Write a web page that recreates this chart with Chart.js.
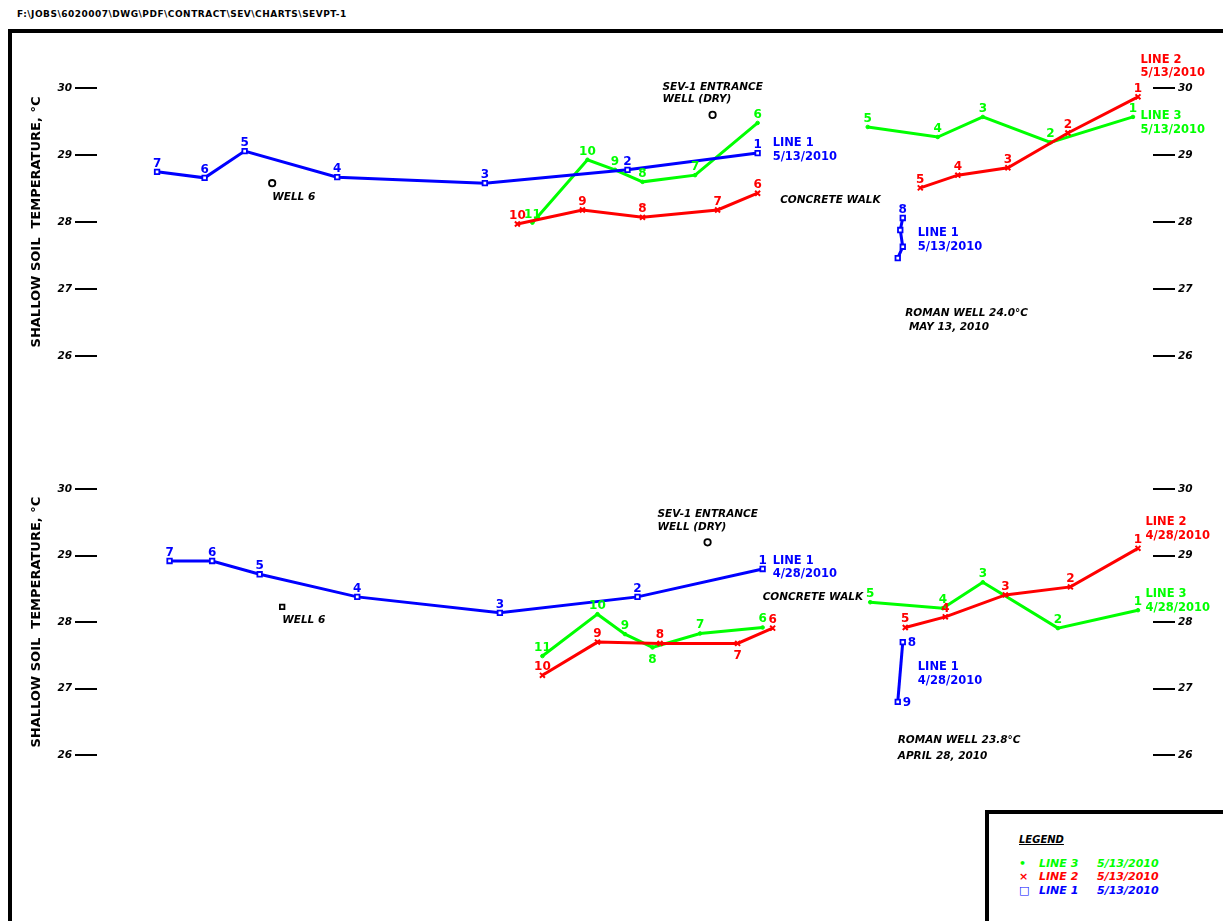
<!DOCTYPE html>
<html>
<head>
<meta charset="utf-8">
<title>SEVPT-1 shallow soil temperature</title>
<script src="https://cdn.jsdelivr.net/npm/chart.js@4/dist/chart.umd.min.js"></script>
<style>
  html, body { margin: 0; padding: 0; background: #fff; }
  #page { position: relative; width: 1223px; height: 921px; overflow: hidden; background: #fff; }
  #path { position: absolute; left: 17px; top: 9px; font: bold 9px "DejaVu Sans", sans-serif; letter-spacing: 0.5px; color: #000; white-space: nowrap; }
  #frame { position: absolute; left: 8px; top: 29px; width: 1400px; height: 1000px; border-left: 4px solid #000; border-top: 4px solid #000; }
  canvas { position: absolute; left: 0; }
  #legend { position: absolute; left: 985px; top: 810px; width: 400px; height: 200px; border-left: 4px solid #000; border-top: 4px solid #000; background: #fff; }
  #legend .ttl { position: absolute; left: 30px; top: 20px; font: italic bold 10px "DejaVu Sans", sans-serif; text-decoration: underline; }
  #legend .row { position: absolute; left: 30px; font: italic bold 11px "DejaVu Sans", sans-serif; white-space: nowrap; }
  #legend .mk { display: inline-block; width: 20px; }
  #legend .nm { display: inline-block; width: 58px; }
</style>
</head>
<body>
<div id="page">
  <div id="path">F:\JOBS\6020007\DWG\PDF\CONTRACT\SEV\CHARTS\SEVPT-1</div>
  <div id="frame"></div>
  <canvas id="may" width="1223" height="440" style="top:0"></canvas>
  <canvas id="apr" width="1223" height="481" style="top:440px"></canvas>
  <div id="legend">
    <div class="ttl">LEGEND</div>
    <div class="row" style="top:43px;color:#00ff00"><span class="mk">&#8226;</span><span class="nm">LINE 3</span>5/13/2010</div>
    <div class="row" style="top:56px;color:#ff0000"><span class="mk">&#215;</span><span class="nm">LINE 2</span>5/13/2010</div>
    <div class="row" style="top:70px;color:#0000ff"><span class="mk">&#9633;</span><span class="nm">LINE 1</span>5/13/2010</div>
  </div>
</div>
<script>
// Temperature axis
const Y_TICKS = [26, 27, 28, 29, 30];
const Y_MIN = 25.4;
const Y_MAX = 30.6;
const X_MAX = 422;   // station along the survey (ft)

// ---- May 13, 2010 survey ----
const mayL1Sta = [24, 43, 59, 96, 155, 212, 264];
const mayL1Temp = [28.75, 28.66, 29.06, 28.67, 28.58, 28.78, 29.03];
const mayL1Num = ['7', '6', '5', '4', '3', '2', '1'];
const mayL1RomanSta = [322, 321, 322, 320];
const mayL1RomanTemp = [28.06, 27.88, 27.63, 27.46];
const mayL1RomanNum = ['8', '', '', ''];

const mayL2Sta = [168, 194, 218, 248, 264];
const mayL2Temp = [27.97, 28.18, 28.07, 28.18, 28.43];
const mayL2Num = ['10', '9', '8', '7', '6'];
const mayL2RomanSta = [329, 344, 364, 388, 416];
const mayL2RomanTemp = [28.51, 28.70, 28.81, 29.33, 29.87];
const mayL2RomanNum = ['5', '4', '3', '2', '1'];

const mayL3Sta = [174, 196, 207, 218, 239, 264];
const mayL3Temp = [27.99, 28.93, 28.78, 28.60, 28.70, 29.48];
const mayL3Num = ['11', '10', '9', '8', '7', '6'];
const mayL3RomanSta = [308, 336, 354, 381, 414];
const mayL3RomanTemp = [29.42, 29.27, 29.57, 29.19, 29.57];
const mayL3RomanNum = ['5', '4', '3', '2', '1'];

const mayWellSta = [246, 70];
const mayWellTemp = [29.60, 28.58];

// ---- April 28, 2010 survey ----
const aprL1Sta = [29, 46, 65, 104, 161, 216, 266];
const aprL1Temp = [28.92, 28.92, 28.72, 28.38, 28.14, 28.38, 28.80];
const aprL1Num = ['7', '6', '5', '4', '3', '2', '1'];
const aprL1RomanSta = [322, 320];
const aprL1RomanTemp = [27.70, 26.80];
const aprL1RomanNum = ['8', '9'];

const aprL2Sta = [178, 200, 225, 256, 270];
const aprL2Temp = [27.20, 27.70, 27.68, 27.68, 27.91];
const aprL2Num = ['10', '9', '8', '7', '6'];
const aprL2RomanSta = [323, 339, 363, 389, 416];
const aprL2RomanTemp = [27.92, 28.08, 28.41, 28.53, 29.11];
const aprL2RomanNum = ['5', '4', '3', '2', '1'];

const aprL3Sta = [178, 200, 211, 222, 241, 266];
const aprL3Temp = [27.49, 28.12, 27.82, 27.62, 27.83, 27.92];
const aprL3Num = ['11', '10', '9', '8', '7', '6'];
const aprL3RomanSta = [309, 338, 354, 384, 416];
const aprL3RomanTemp = [28.30, 28.21, 28.60, 27.91, 28.18];
const aprL3RomanNum = ['5', '4', '3', '2', '1'];

const aprWellSta = [244, 74];
const aprWellTemp = [29.20, 28.23];

// Text notes (station, temperature of each text line)
const BLUE = '#0000ff', RED = '#ff0000', GREEN = '#00ff00', BLACK = '#000000';
const mayNotes = [
  { lines: ['SEV-1 ENTRANCE', 'WELL (DRY)'], sta: 226, temp: [30.01, 29.83], color: BLACK },
  { lines: ['WELL 6'], sta: 70, temp: [28.37], color: BLACK },
  { lines: ['CONCRETE WALK'], sta: 273, temp: [28.33], color: BLACK },
  { lines: ['ROMAN WELL 24.0\u00B0C', ' MAY 13, 2010'], sta: 323, temp: [26.64, 26.43], color: BLACK },
  { lines: ['LINE 1', '5/13/2010'], sta: 270, temp: [29.18, 28.97], color: BLUE },
  { lines: ['LINE 2', '5/13/2010'], sta: 417, temp: [30.42, 30.22], color: RED },
  { lines: ['LINE 3', '5/13/2010'], sta: 417, temp: [29.58, 29.37], color: GREEN },
  { lines: ['LINE 1', '5/13/2010'], sta: 328, temp: [27.84, 27.62], color: BLUE }
];
const aprNotes = [
  { lines: ['SEV-1 ENTRANCE', 'WELL (DRY)'], sta: 224, temp: [29.62, 29.43], color: BLACK },
  { lines: ['WELL 6'], sta: 74, temp: [28.03], color: BLACK },
  { lines: ['CONCRETE WALK'], sta: 266, temp: [28.38], color: BLACK },
  { lines: ['ROMAN WELL 23.8\u00B0C', 'APRIL 28, 2010'], sta: 320, temp: [26.23, 25.98], color: BLACK },
  { lines: ['LINE 1', '4/28/2010'], sta: 270, temp: [28.92, 28.72], color: BLUE },
  { lines: ['LINE 2', '4/28/2010'], sta: 419, temp: [29.50, 29.29], color: RED },
  { lines: ['LINE 3', '4/28/2010'], sta: 419, temp: [28.42, 28.22], color: GREEN },
  { lines: ['LINE 1', '4/28/2010'], sta: 328, temp: [27.32, 27.12], color: BLUE }
];

function pts(sta, temp) { return sta.map((s, i) => ({ x: s, y: temp[i] })); }

function line1(sta, temp, nums, side) {
  return { data: pts(sta, temp), nums, numSide: side || 'top', borderColor: BLUE, backgroundColor: BLUE,
    borderWidth: 3, pointStyle: 'rect', pointRadius: 3.2, pointBackgroundColor: '#fff',
    pointBorderColor: BLUE, pointBorderWidth: 1.8 };
}
function line2(sta, temp, nums, below) {
  return { data: pts(sta, temp), nums, below: below || [], borderColor: RED, backgroundColor: RED,
    borderWidth: 3, pointStyle: 'crossRot', pointRadius: 3.5, pointBorderWidth: 2 };
}
function line3(sta, temp, nums, below) {
  return { data: pts(sta, temp), nums, below: below || [], borderColor: GREEN, backgroundColor: GREEN,
    borderWidth: 3, pointStyle: 'circle', pointRadius: 1.8, pointBorderWidth: 1 };
}
function wells(sta, temp, styles) {
  return { data: pts(sta, temp), showLine: false, pointStyle: styles, pointRadius: 3.2,
    pointBorderColor: BLACK, pointBackgroundColor: '#fff', pointBorderWidth: 1.8, borderColor: BLACK };
}

const labelPlugin = {
  id: 'sevLabels',
  afterDatasetsDraw(chart, args, opts) {
    const ctx = chart.ctx;
    const xs = chart.scales.x, ys = chart.scales.y;
    ctx.save();
    chart.data.datasets.forEach((ds, i) => {
      if (!ds.nums) return;
      const meta = chart.getDatasetMeta(i);
      ctx.fillStyle = ds.borderColor;
      ctx.font = 'bold 12px "DejaVu Sans", sans-serif';
      ctx.textBaseline = 'alphabetic';
      meta.data.forEach((el, j) => {
        const t = ds.nums[j];
        if (!t) return;
        if (ds.numSide === 'side') {
          ctx.textAlign = 'left';
          ctx.fillText(t, el.x + 5, el.y + 4);
        } else {
          ctx.textAlign = 'center';
          const below = ds.below && ds.below.includes(j);
          ctx.fillText(t, el.x, below ? el.y + 16 : el.y - 5);
        }
      });
    });
    opts.notes.forEach(n => {
      ctx.fillStyle = n.color;
      ctx.font = n.color === BLACK ? 'italic bold 10.5px "DejaVu Sans", sans-serif' : 'bold 11.5px "DejaVu Sans", sans-serif';
      ctx.textAlign = 'left';
      ctx.textBaseline = 'middle';
      n.lines.forEach((ln, k) => ctx.fillText(ln, xs.getPixelForValue(n.sta), ys.getPixelForValue(n.temp[k])));
    });
    ctx.restore();
  }
};

function tempAxis(position, withTitle) {
  return {
    type: 'linear', position, min: Y_MIN, max: Y_MAX,
    afterBuildTicks: s => { s.ticks = Y_TICKS.map(v => ({ value: v })); },
    afterFit: s => { s.width = position === 'left' ? 72 : 60; },
    border: { display: false },
    grid: { drawOnChartArea: false, drawTicks: true, tickLength: 22, color: BLACK, lineWidth: 2 },
    ticks: { color: BLACK, padding: 3, font: { family: 'DejaVu Sans', size: 10.5, weight: 'bold', style: 'italic' } },
    title: { display: withTitle, text: 'SHALLOW SOIL  TEMPERATURE, \u00B0C', color: BLACK,
      font: { family: 'DejaVu Sans', size: 13, weight: 'bold' } }
  };
}

function makeChart(id, datasets, notes, pad) {
  new Chart(document.getElementById(id), {
    type: 'line',
    data: { datasets },
    options: {
      responsive: false, animation: false, devicePixelRatio: 1,
      layout: { padding: pad },
      plugins: { legend: { display: false }, tooltip: { enabled: false }, sevLabels: { notes } },
      elements: { line: { tension: 0, fill: false } },
      scales: {
        x: { type: 'linear', min: 0, max: X_MAX, display: false },
        y: tempAxis('left', true),
        y2: tempAxis('right', false)
      }
    },
    plugins: [labelPlugin]
  });
}

makeChart('may', [
  line1(mayL1Sta, mayL1Temp, mayL1Num),
  line1(mayL1RomanSta, mayL1RomanTemp, mayL1RomanNum),
  line2(mayL2Sta, mayL2Temp, mayL2Num),
  line2(mayL2RomanSta, mayL2RomanTemp, mayL2RomanNum),
  line3(mayL3Sta, mayL3Temp, mayL3Num),
  line3(mayL3RomanSta, mayL3RomanTemp, mayL3RomanNum),
  wells(mayWellSta, mayWellTemp, ['circle', 'circle'])
], mayNotes, { left: 25, right: 10, top: 48, bottom: 44 });

makeChart('apr', [
  line1(aprL1Sta, aprL1Temp, aprL1Num),
  line1(aprL1RomanSta, aprL1RomanTemp, aprL1RomanNum, 'side'),
  line2(aprL2Sta, aprL2Temp, aprL2Num, [3]),
  line2(aprL2RomanSta, aprL2RomanTemp, aprL2RomanNum),
  line3(aprL3Sta, aprL3Temp, aprL3Num, [3]),
  line3(aprL3RomanSta, aprL3RomanTemp, aprL3RomanNum),
  wells(aprWellSta, aprWellTemp, ['circle', 'rect'])
], aprNotes, { left: 25, right: 10, top: 9, bottom: 126 });
</script>
</body>
</html>
